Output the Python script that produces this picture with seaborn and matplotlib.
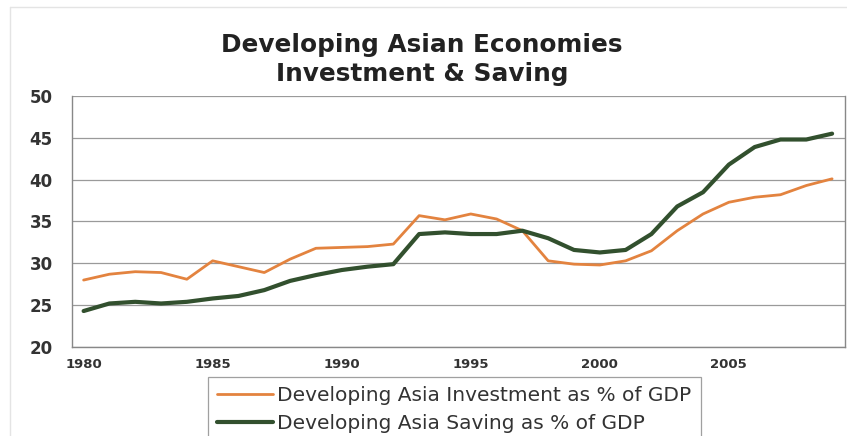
import matplotlib
matplotlib.use("Agg")
import matplotlib.pyplot as plt
import seaborn as sns
import pandas as pd

years = list(range(1980, 2010))
investment = [28.0, 28.7, 29.0, 28.9, 28.1, 30.3, 29.6, 28.9, 30.5, 31.8,
              31.9, 32.0, 32.3, 35.7, 35.2, 35.9, 35.3, 33.9, 30.3, 29.9,
              29.8, 30.3, 31.5, 33.9, 35.9, 37.3, 37.9, 38.2, 39.3, 40.1]
saving = [24.3, 25.2, 25.4, 25.2, 25.4, 25.8, 26.1, 26.8, 27.9, 28.6,
          29.2, 29.6, 29.9, 33.5, 33.7, 33.5, 33.5, 33.9, 33.0, 31.6,
          31.3, 31.6, 33.5, 36.8, 38.5, 41.8, 43.9, 44.8, 44.8, 45.5]
series_names = ["Developing Asia Investment as % of GDP",
                "Developing Asia Saving as % of GDP"]
title_lines = ["Developing Asian Economies", "Investment & Saving"]
x_ticks = [1980, 1985, 1990, 1995, 2000, 2005]
y_ticks = [20, 25, 30, 35, 40, 45, 50]

df = pd.DataFrame({
    "year": years * 2,
    "value": investment + saving,
    "series": [series_names[0]] * len(years) + [series_names[1]] * len(years),
})

sns.set_style("white")
plt.rcParams["font.family"] = ["DejaVu Sans"]

fig = plt.figure(figsize=(8.47, 4.36), dpi=100)

# faint outer chart frame (top and left edges)
fig.add_artist(plt.Line2D([10 / 847, 10 / 847], [0, 1 - 7 / 436],
                          transform=fig.transFigure, color="#e4e4e4", lw=1.0))
fig.add_artist(plt.Line2D([10 / 847, 1], [1 - 7 / 436, 1 - 7 / 436],
                          transform=fig.transFigure, color="#e4e4e4", lw=1.0))

ax = fig.add_axes([72 / 847, 1 - 347 / 436, (845 - 72) / 847, (347 - 96) / 436])

palette = {series_names[0]: "#E3833F", series_names[1]: "#32502E"}
sns.lineplot(data=df, x="year", y="value", hue="series", palette=palette,
             ax=ax, legend=False)
for line, lw in zip(ax.lines, [2.0, 3.0]):
    line.set_linewidth(lw)

ax.set_xlim(1979.55, 2009.5)
ax.set_ylim(20, 50)
ax.set_xticks(x_ticks)
ax.set_yticks(y_ticks)
ax.set_xticklabels([str(t) for t in x_ticks], fontsize=9.5, fontweight="bold",
                   color="#333333")
ax.set_yticklabels([str(t) for t in y_ticks], fontsize=12, fontweight="bold",
                   color="#333333")
ax.tick_params(axis="x", length=0, pad=8)
ax.tick_params(axis="y", length=0, pad=14)
ax.set_xlabel("")
ax.set_ylabel("")
ax.grid(axis="y", color="#9a9a9a", linewidth=0.9)
ax.set_axisbelow(True)
for side in ["left", "bottom", "right"]:
    ax.spines[side].set_color("#888888")
    ax.spines[side].set_linewidth(1.0)
ax.spines["top"].set_visible(False)

fig.text(422 / 847, 1 - 45 / 436, title_lines[0], ha="center", va="center",
         fontsize=17.8, fontweight="bold", color="#222222")
fig.text(422 / 847, 1 - 74 / 436, title_lines[1], ha="center", va="center",
         fontsize=17.8, fontweight="bold", color="#222222")

handles = [plt.Line2D([], [], color=palette[series_names[0]], lw=2.0),
           plt.Line2D([], [], color=palette[series_names[1]], lw=3.0)]
leg = fig.legend(handles, series_names, loc="upper left",
                 bbox_to_anchor=(208 / 847, 1 - 377 / 436),
                 frameon=True, fancybox=False, fontsize=14.5,
                 handlelength=2.8, handletextpad=0.2, borderpad=0.45,
                 labelspacing=0.45, borderaxespad=0)
leg.get_frame().set_edgecolor("#888888")
leg.get_frame().set_linewidth(0.9)
for t in leg.get_texts():
    t.set_color("#333333")

fig.savefig("out.png", dpi=100)
